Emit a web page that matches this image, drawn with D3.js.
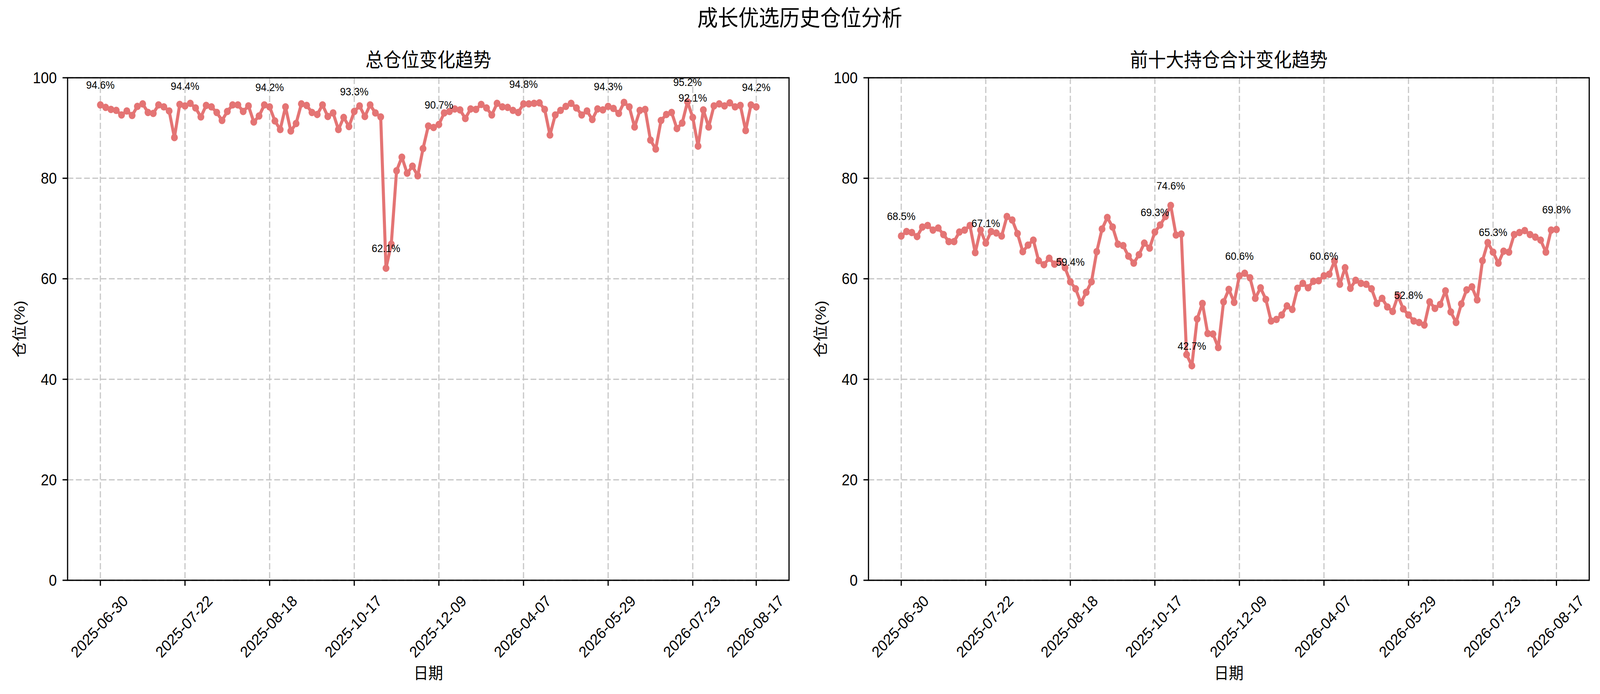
<!DOCTYPE html>
<html>
<head>
<meta charset="utf-8">
<script src="https://cdn.jsdelivr.net/npm/d3@7"></script>
<style>
  html, body { margin: 0; padding: 0; background: #fff; overflow: hidden; }
  #chart { display: block; width: 100vw; height: 100vh; }
  svg text { font-family: "Liberation Sans", Arial, "Noto Sans CJK SC", sans-serif; fill: #000; }
</style>
</head>
<body>
<!-- drawn in a 4451x1776 space, stretched to whatever the window is -->
<svg id="chart" viewBox="0 0 4451 1776" preserveAspectRatio="none"></svg>
<script>
// values, one per report date (125 points)
const totalPos = [
  94.6, 94.1, 93.7, 93.5, 92.6, 93.4, 92.5, 94.3, 94.8, 93.1,
  92.9, 94.6, 94.2, 93.4, 88.1, 94.7, 94.4, 94.9, 94.0, 92.2,
  94.5, 94.2, 93.1, 91.5, 93.3, 94.6, 94.6, 93.3, 94.4, 91.2,
  92.4, 94.6, 94.2, 91.4, 89.7, 94.2, 89.4, 90.9, 94.8, 94.5,
  93.1, 92.7, 94.6, 92.3, 93.0, 89.7, 92.1, 90.3, 93.3, 94.4,
  92.3, 94.6, 93.0, 92.2, 62.1, 66.9, 81.5, 84.2, 81.0, 82.4,
  80.5, 85.9, 90.4, 90.1, 90.7, 93.0, 93.3, 93.8, 93.6, 91.9,
  93.8, 93.7, 94.7, 94.0, 92.6, 94.9, 94.2, 94.1, 93.5, 93.1,
  94.8, 94.8, 94.9, 95.0, 93.7, 88.6, 92.6, 93.5, 94.3, 94.9,
  94.0, 92.6, 93.4, 91.7, 93.8, 93.6, 94.3, 93.9, 92.9, 95.1,
  94.2, 90.2, 93.5, 93.7, 87.6, 85.8, 91.5, 92.7, 93.1, 89.9,
  91.0, 95.2, 92.1, 86.4, 93.6, 90.2, 94.4, 94.8, 94.4, 95.0,
  94.2, 94.5, 89.5, 94.6, 94.2
];

const top10Pos = [
  68.5, 69.4, 69.2, 68.4, 70.3, 70.6, 69.7, 70.1, 68.8, 67.4,
  67.4, 69.3, 69.7, 70.6, 65.2, 69.7, 67.1, 69.4, 69.1, 68.5,
  72.4, 71.7, 69.0, 65.4, 66.7, 67.7, 63.6, 62.8, 64.1, 62.9,
  63.5, 62.2, 59.4, 58.0, 55.2, 57.3, 59.4, 65.4, 69.9, 72.2,
  70.3, 66.9, 66.6, 64.5, 63.1, 64.8, 67.1, 66.1, 69.3, 70.7,
  72.4, 74.6, 68.7, 68.9, 44.9, 42.7, 52.0, 55.1, 49.1, 49.0,
  46.3, 55.4, 57.9, 55.3, 60.6, 61.1, 60.2, 56.1, 58.2, 55.9,
  51.6, 51.9, 52.8, 54.6, 53.9, 58.1, 59.1, 58.2, 59.5, 59.6,
  60.6, 60.9, 63.5, 58.9, 62.2, 58.1, 59.7, 59.1, 58.9, 58.0,
  55.1, 56.1, 54.4, 53.5, 56.6, 54.0, 52.8, 51.6, 51.3, 50.8,
  55.4, 54.1, 54.9, 57.6, 53.4, 51.3, 55.0, 57.8, 58.4, 55.8,
  63.6, 67.2, 65.3, 63.1, 65.5, 65.3, 68.8, 69.2, 69.6, 68.8,
  68.3, 67.7, 65.3, 69.7, 69.8
];

// x tick positions (point index) and their date labels
const tickIdx = [0, 16, 32, 48, 64, 80, 96, 112, 124];
const tickLabels = ["2025-06-30", "2025-07-22", "2025-08-18", "2025-10-17", "2025-12-09",
                    "2026-04-07", "2026-05-29", "2026-07-23", "2026-08-17"];
const yTicks = [0, 20, 40, 60, 80, 100];

const suptitle = "成长优选历史仓位分析";
const panelTitles = ["总仓位变化趋势", "前十大持仓合计变化趋势"];
const xLabel = "日期";
const yLabel = "仓位(%)";

window.addEventListener("load", drawAll);

function drawAll() {
  const svg = d3.select("#chart");
  const lineColor = "#e47474";
  const top = 199, bottom = 1485;

  svg.append("text")
    .attr("x", 2225).attr("y", 66)
    .attr("text-anchor", "middle")
    .style("font-size", "57px")
    .text(suptitle);

  let panel = function(series, title, left, right) {
    const n = series.length;
    const pad = (n - 1) * 0.05;   // matplotlib default margins
    const x = d3.scaleLinear().domain([-pad, n - 1 + pad]).range([left, right]);
    const y = d3.scaleLinear().domain([0, 100]).range([bottom, top]);

    const g = svg.append("g");

    // grid
    g.selectAll(".gx").data(tickIdx).join("line")
      .attr("x1", d => x(d)).attr("x2", d => x(d))
      .attr("y1", top).attr("y2", bottom)
      .attr("stroke", "#c8c8c8").attr("stroke-width", 3.3)
      .attr("stroke-dasharray", "16,7");
    g.selectAll(".gy").data(yTicks).join("line")
      .attr("x1", left).attr("x2", right)
      .attr("y1", d => y(d)).attr("y2", d => y(d))
      .attr("stroke", "#c8c8c8").attr("stroke-width", 3.3)
      .attr("stroke-dasharray", "16,7");

    // line + markers
    g.append("path")
      .datum(series)
      .attr("fill", "none")
      .attr("stroke", lineColor)
      .attr("stroke-width", 8.5)
      .attr("stroke-linejoin", "round")
      .attr("d", d3.line().x((d, i) => x(i)).y(d => y(d)));

    g.selectAll("circle").data(series).join("circle")
      .attr("cx", (d, i) => x(i))
      .attr("cy", d => y(d))
      .attr("r", 9.5)
      .attr("fill", lineColor);

    // labels: every tick point plus min and max
    let idx = tickIdx.slice();
    idx.push(d3.maxIndex(series), d3.minIndex(series));
    idx = Array.from(new Set(idx));
    g.selectAll(".ann").data(idx).join("text")
      .attr("x", i => x(i))
      .attr("y", i => y(series[i]) - 41)
      .attr("text-anchor", "middle")
      .style("font-size", "28px")
      .text(i => series[i].toFixed(1) + "%");

    // spines
    g.append("rect")
      .attr("x", left).attr("y", top)
      .attr("width", right - left).attr("height", bottom - top)
      .attr("fill", "none").attr("stroke", "#000").attr("stroke-width", 3.3);

    // y axis ticks
    g.selectAll(".yt").data(yTicks).join("line")
      .attr("x1", left - 14).attr("x2", left)
      .attr("y1", d => y(d)).attr("y2", d => y(d))
      .attr("stroke", "#000").attr("stroke-width", 3.3);
    g.selectAll(".yl").data(yTicks).join("text")
      .attr("x", left - 30)
      .attr("y", d => y(d))
      .attr("dy", "0.35em")
      .attr("text-anchor", "end")
      .style("font-size", "40px")
      .text(d => d);

    // x axis ticks, labels turned 45deg
    g.selectAll(".xt").data(tickIdx).join("line")
      .attr("x1", d => x(d)).attr("x2", d => x(d))
      .attr("y1", bottom).attr("y2", bottom + 14)
      .attr("stroke", "#000").attr("stroke-width", 3.3);
    g.selectAll(".xl").data(tickIdx).join("text")
      .attr("transform", d => `translate(${x(d) - 3},1603) rotate(-45)`)
      .attr("dy", "0.35em")
      .attr("text-anchor", "middle")
      .style("font-size", "40px")
      .text((d, i) => tickLabels[i]);

    // titles
    g.append("text")
      .attr("x", (left + right) / 2).attr("y", 171)
      .attr("text-anchor", "middle")
      .style("font-size", "50px")
      .text(title);
    g.append("text")
      .attr("x", (left + right) / 2).attr("y", 1737)
      .attr("text-anchor", "middle")
      .style("font-size", "41px")
      .text(xLabel);
    g.append("text")
      .attr("transform", `translate(${left - 119},${(top + bottom) / 2}) rotate(-90)`)
      .attr("text-anchor", "middle")
      .style("font-size", "41px")
      .text(yLabel);
  };

  panel(totalPos, panelTitles[0], 188, 2195);
  panel(top10Pos, panelTitles[1], 2416, 4421);
}
</script>
</body>
</html>
